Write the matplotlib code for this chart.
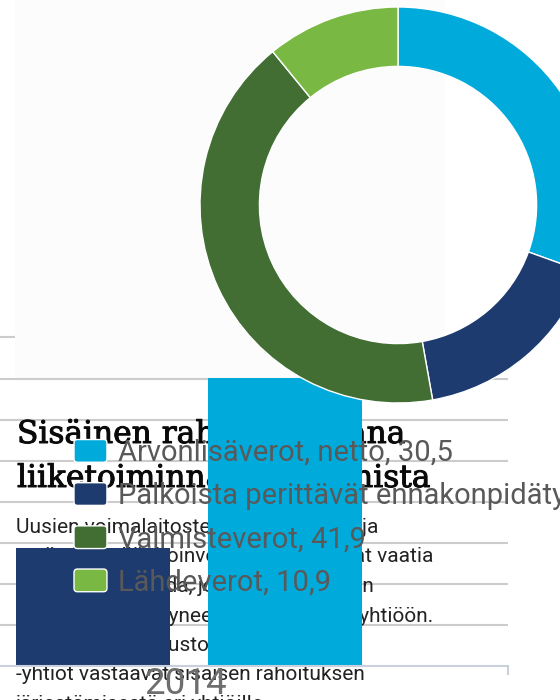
import matplotlib
matplotlib.use("Agg")
from matplotlib import pyplot as plt
import matplotlib.patches as mpatches
import matplotlib.patheffects as pe
from matplotlib.legend_handler import HandlerPatch

# donut: verojen jakauma
tax_labels = ["Arvonlisäverot, netto, 30,5",
              "Palkoista perittävät ennakonpidätykset, 16,7",
              "Valmisteverot, 41,9",
              "Lähdeverot, 10,9"]
tax_values = [30.5, 16.7, 41.9, 10.9]
tax_colors = ["#00aadb", "#1d3b6e", "#426e34", "#79b943"]

# pylväät
bar_year = ["2014"]
bar_values = [12.4, 30.5]
bar_colors = ["#1d3b6e", "#00aadb"]

# taustateksti (vasen osa, oikea osa)
heading = [("Sisäinen rahoitus", "osana"),
           ("liiketoiminnan", "hoitamista")]
body = [("Uusien voimalaitosten", "rakentaminen ja"),
        ("myös isot ylläpitoinvestoinnit", "saattavat vaatia"),
        ("Sitä voidaan tuoda, jos", "emoyhtiön"),
        ("konsernissa kertyneet varat", "siirretään yhtiöön."),
        ("Konsernin rahoitustoiminto ja tytär-", ""),
        ("-yhtiöt vastaavat sisäisen rahoituksen", ""),
        ("järjestämisestä eri yhtiöille.", "")]

W, H = 560, 700
fig = plt.figure(figsize=(5.6, 7), dpi=100)
fig.patch.set_facecolor("white")

# background layer, pixel coords from top
bg = fig.add_axes([0, 0, 1, 1], zorder=0)
bg.set_xlim(0, W)
bg.set_ylim(H, 0)
bg.axis("off")
bg.add_patch(mpatches.Rectangle((15, 0), 430, 378, color="#fcfcfc", lw=0))
bg.hlines([337], 0, 15, color="#cccccc", lw=1.5)
bg.hlines([379, 420, 461, 502, 543, 584, 625], 0, 508, color="#cccccc", lw=1.5)

head_right = [405, 430]
head_font = dict(family="DejaVu Serif", fontsize=22.5, color="#0a0a0a", va="baseline",
                 path_effects=[pe.withStroke(linewidth=0.7, foreground="#0a0a0a")])
for i, (left, right) in enumerate(heading):
    yb = 443 + i * 44
    bg.text(17, yb, left, **head_font)
    bg.text(head_right[i], yb, right, ha="right", **head_font)

body_right = [378, 433, 374, 433]
body_font = dict(family="Roboto", fontsize=15, color="#222222", va="baseline")
low = fig.add_axes([0, 0, 1, 34 / H], zorder=0.5)
low.set_xlim(0, W)
low.set_ylim(H, 666)
low.axis("off")
for i, (left, right) in enumerate(body):
    yb = 533 + i * 29.5
    target = low if yb > 670 else bg
    target.text(16, yb, left, **body_font)
    if right:
        bg.text(body_right[i], yb, right, ha="right", **body_font)

# bar chart
ax = fig.add_axes([0, 34.5 / H, 508 / W, 665.5 / H], zorder=1)
ax.patch.set_alpha(0)
x0 = 0
ax.bar([x0 - 0.25, x0 + 0.25], bar_values, width=0.4, color=bar_colors)
ax.set_xlim(-0.4916, 0.828)
ax.set_ylim(0, 70.5)
for s in ["top", "right", "left"]:
    ax.spines[s].set_visible(False)
ax.spines["bottom"].set_color("#c8d0dc")
ax.spines["bottom"].set_linewidth(1.5)
ax.set_yticks([])
ax.set_xticks([x0 - 0.01])
ax.set_xticklabels(bar_year, family="Roboto", fontsize=26.5, color="#6e6e6e")
ax.tick_params(axis="x", which="major", length=0, pad=0)
ax.set_xticks([0.828], minor=True)
ax.tick_params(axis="x", which="minor", length=6.5, width=1.5, color="#c8d0dc")

# donut
dax = fig.add_axes([200 / W, (H - 403) / H, 396 / W, 396 / H], zorder=2)
wedges, _ = dax.pie(tax_values, colors=tax_colors, startangle=90, counterclock=False,
                    radius=1, wedgeprops=dict(width=0.3, edgecolor="white", linewidth=1))
dax.set_xlim(-1, 1)
dax.set_ylim(-1, 1)
dax.set_aspect("equal")


def rounded_box(legend, orig_handle, xdescent, ydescent, width, height, fontsize):
    return mpatches.FancyBboxPatch((-xdescent, -ydescent), width, height,
                                   boxstyle="round,pad=0,rounding_size=2.5")


leg = fig.legend(wedges, tax_labels, loc="upper left",
                 bbox_to_anchor=(74 / W, 1 - 439 / H), frameon=False,
                 prop=dict(family="Roboto", size=21), labelcolor="#595959",
                 handlelength=1.13, handleheight=0.82, handletextpad=0.38,
                 labelspacing=0.52, borderpad=0, borderaxespad=0,
                 handler_map={mpatches.Wedge: HandlerPatch(patch_func=rounded_box)})
leg.set_zorder(5)

fig.savefig("out.png", dpi=100)
